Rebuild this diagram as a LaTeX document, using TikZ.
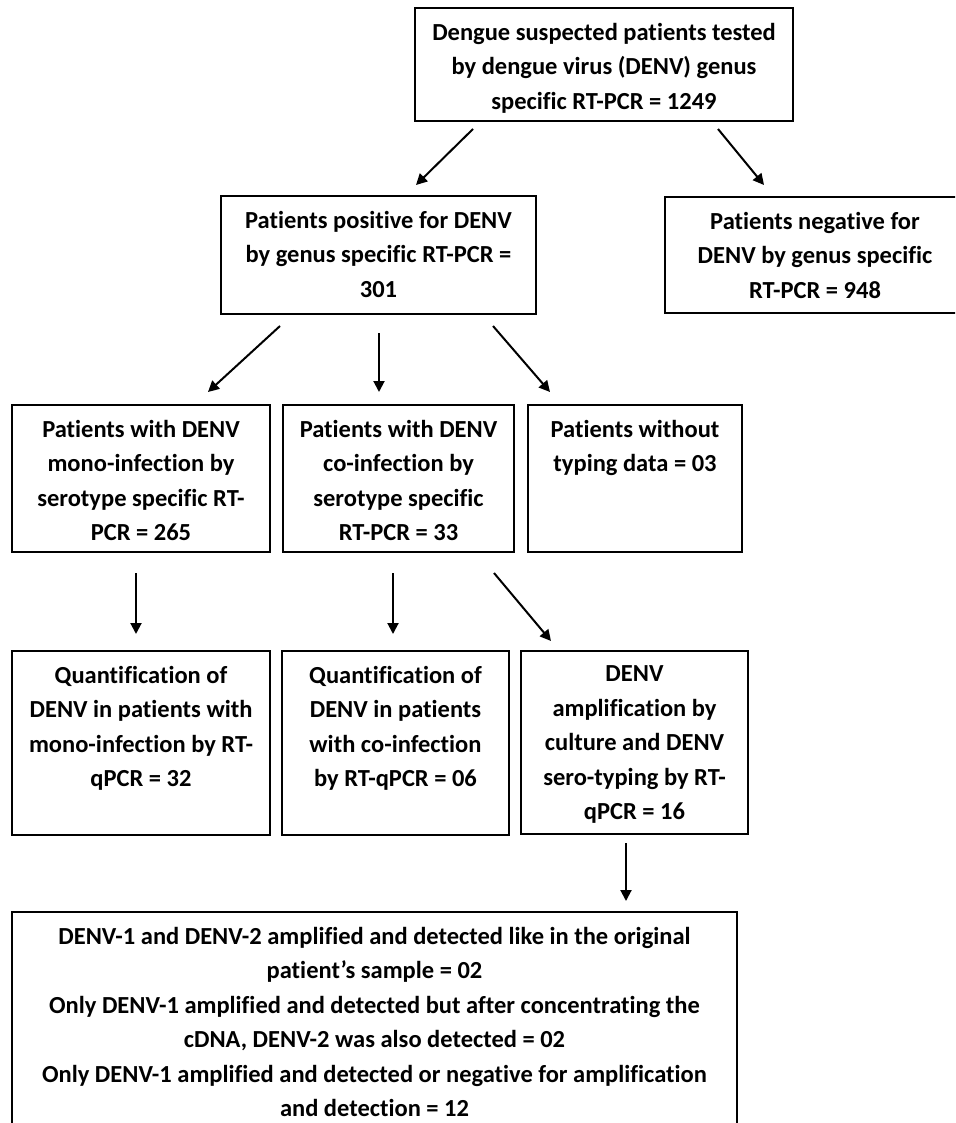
\documentclass[tikz,border=0pt]{standalone}
\usepackage{fontspec}
\setmainfont{Carlito}[Ligatures=NoCommon]
\usetikzlibrary{arrows.meta}
\newcommand{\bxt}[3]{\parbox[c][#2pt][t]{#1pt}{\centering\fontsize{24.5}{34.5}\selectfont\bfseries\vspace*{15pt}#3\par}}
\tikzset{
  flowbox/.style={draw=black, line width=2.6pt, inner sep=0pt, outer sep=0pt, rectangle, fill=white},
  arr/.style={line width=2pt, -{Triangle[length=11pt,width=11pt]}}
}
\begin{document}
\begin{tikzpicture}[x=1pt,y=-1pt]
\useasboundingbox (0,0) rectangle (955,1123);
\clip (0,0) rectangle (955,1123);
\fill[white] (0,0) rectangle (955,1123);
% boxes: center x, center y = top + H/2
\node[flowbox] (b1) at (604,64.5) {\bxt{378}{113}{Dengue suspected patients tested\\by dengue virus (DENV) genus\\specific RT-PCR = 1249}};
\node[flowbox] (b2) at (378.5,255) {\bxt{315}{118}{Patients positive for DENV\\by genus specific RT-PCR =\\301}};
\node[flowbox] (b3) at (815,255) {\bxt{300}{116}{Patients negative for\\DENV by genus specific\\RT-PCR = 948}};
\node[flowbox] (b4) at (141,478.5) {\bxt{258}{147}{Patients with DENV\\mono-infection by\\serotype specific RT-\\PCR = 265}};
\node[flowbox] (b5) at (398.5,478.5) {\bxt{231}{147}{Patients with DENV\\co-infection by\\serotype specific\\RT-PCR = 33}};
\node[flowbox] (b6) at (635,478.5) {\bxt{214}{147}{Patients without\\typing data = 03}};
\node[flowbox] (b7) at (141,743) {\bxt{258}{184}{Quantification of\\DENV in patients with\\mono-infection by RT-\\qPCR = 32}};
\node[flowbox] (b8) at (395.5,743) {\bxt{227}{184}{Quantification of\\DENV in patients\\with co-infection\\by RT-qPCR = 06}};
\node[flowbox] (b9) at (634.5,742.5) {\bxt{227}{183}{DENV\\amplification by\\culture and DENV\\sero-typing by RT-\\qPCR = 16}};
\node[flowbox] (b10) at (374.5,1024.5) {\bxt{725}{225}{DENV-1 and DENV-2 amplified and detected like in the original\\patient’s sample = 02\\Only DENV-1 amplified and detected but after concentrating the\\cDNA, DENV-2 was also detected = 02\\Only DENV-1 amplified and detected or negative for amplification\\and detection = 12}};
% arrow end points
\coordinate (a1s) at (473,129); \coordinate (a1e) at (416,185);
\coordinate (a2s) at (718,129); \coordinate (a2e) at (764,185);
\coordinate (a3s) at (280,326); \coordinate (a3e) at (208,392);
\coordinate (a4s) at (379,333); \coordinate (a4e) at (379,392);
\coordinate (a5s) at (493,326); \coordinate (a5e) at (550,392);
\coordinate (a6s) at (136,573); \coordinate (a6e) at (136,634);
\coordinate (a7s) at (393,573); \coordinate (a7e) at (393,634);
\coordinate (a8s) at (494,573); \coordinate (a8e) at (551,641);
\coordinate (a9s) at (626,843); \coordinate (a9e) at (626,901);
\draw[arr] (a1s) -- (a1e);
\draw[arr] (a2s) -- (a2e);
\draw[arr] (a3s) -- (a3e);
\draw[arr] (a4s) -- (a4e);
\draw[arr] (a5s) -- (a5e);
\draw[arr] (a6s) -- (a6e);
\draw[arr] (a7s) -- (a7e);
\draw[arr] (a8s) -- (a8e);
\draw[arr] (a9s) -- (a9e);
\end{tikzpicture}
\end{document}
